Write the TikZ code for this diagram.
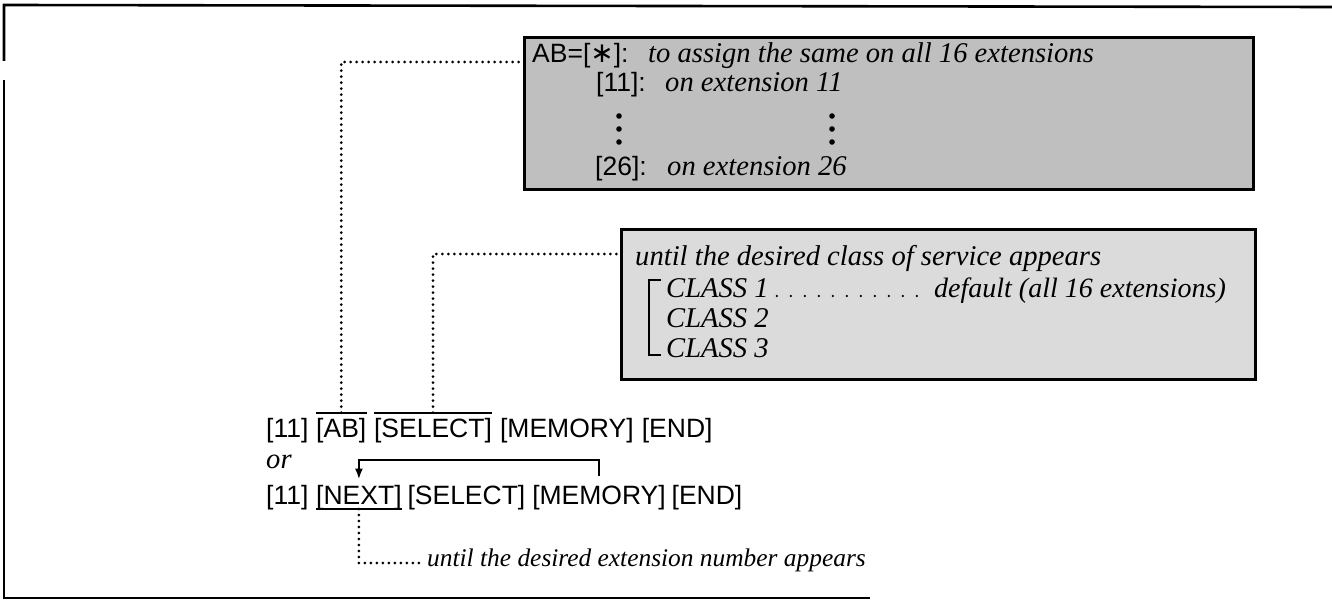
\documentclass[tikz,border=0pt]{standalone}
\usepackage{fontspec}
\setmainfont{Liberation Serif}
\setsansfont{Liberation Sans}
\newfontfamily\mysymfont{DejaVu Sans}
\usetikzlibrary{arrows.meta,calc}
\newcommand\mykeyfont{\sffamily\fontsize{26.5}{30}\selectfont}
\newcommand\myitfont{\rmfamily\itshape\fontsize{28.6}{32}\selectfont}
\newcommand\mysmitfont{\rmfamily\itshape\fontsize{25.4}{30}\selectfont}
\begin{document}
\begin{tikzpicture}[x=1pt,y=-1pt,
  frame/.style={line width=2.6pt},
  note/.style={draw, line width=2.6pt, inner sep=0pt, anchor=north west},
  key/.style={inner sep=0pt, anchor=base west, font=\mykeyfont},
  itx/.style={inner sep=0pt, anchor=base west, font=\myitfont},
  dotline/.style={line width=3pt, line cap=round, dash pattern=on 0pt off 6pt},
  bar/.style={line width=2.2pt}]
\useasboundingbox (0,0) rectangle (1332,607);
% outer frame
\draw[frame] (4,61) -- (4,5) -- (1332,7);
\draw[frame] (4,80) -- (4,598) -- (870,598);

% shaded notes
\node[note, fill=black!25, minimum width=729pt, minimum height=152pt] (box1) at (523,36) {};
\node[note, fill=black!14, minimum width=634pt, minimum height=150pt] (box2) at (620,228) {};

% box 1 contents
\node[key] (b1a) at (532,63) {AB=[\raisebox{0.02em}{\mysymfont\fontsize{28}{28}\selectfont ∗}]:};
\node[itx] (b1at) at (648,63) {to assign the same on all 16 extensions};
\node[key] (b1b) at (596,92) {[11]:};
\node[itx] (b1bt) at (665,92) {on extension 11};
\node[key] (b1c) at (595,175) {[26]:};
\node[itx] (b1ct) at (667,175) {on extension 26};
\foreach \yy in {116,129,142} {
  \fill (619,\yy) circle (2.8pt);
  \fill (832,\yy) circle (2.8pt);
}

% box 2 contents
\node[itx] (b2a) at (635,265) {until the desired class of service appears};
\node[itx] (c1) at (666,297) {CLASS 1};
\node[itx] (c2) at (666,327) {CLASS 2};
\node[itx] (c3) at (666,357) {CLASS 3};
\node[itx, font=\rmfamily\itshape\fontsize{28}{32}\selectfont] (def) at (934,297) {default (all 16 extensions)};
\draw[line width=2.8pt] (661,280) -- (649,280) -- (649,355) -- (661,355);
\draw[line width=2.6pt, line cap=round, dash pattern=on 0pt off 14pt] ([xshift=8pt,yshift=1pt]c1.base east) -- ([xshift=-8pt,yshift=1pt]def.base west);

% row 1
\node[key] (r1a) at (266,437) {[11]};
\node[key] (r1b) at ([xshift=7.4pt]r1a.base east) {[AB]};
\node[key] (r1c) at ([xshift=7.4pt]r1b.base east) {[SELECT]};
\node[key] (r1d) at ([xshift=7.8pt]r1c.base east) {[MEMORY]};
\node[key] (r1e) at ([xshift=7.8pt]r1d.base east) {[END]};
\node[itx] (or) at (266,468) {or};
% row 2
\node[key] (r2a) at (266,504) {[11]};
\node[key] (r2b) at ([xshift=7.4pt]r2a.base east) {[NEXT]};
\node[key] (r2c) at ([xshift=5.5pt]r2b.base east) {[SELECT]};
\node[key] (r2d) at ([xshift=6.5pt]r2c.base east) {[MEMORY]};
\node[key] (r2e) at ([xshift=5.5pt]r2d.base east) {[END]};
\node[itx, font=\mysmitfont] (ext) at (427,566) {until the desired extension number appears};

% overlines and underline
\draw[bar] ([yshift=5pt]r1b.north west) -- ([yshift=5pt]r1b.north east) coordinate[pos=0.5] (abmid);
\draw[bar] ([yshift=5pt]r1c.north west) -- ([yshift=5pt]r1c.north east) coordinate[pos=0.5] (selmid);
\draw[bar] ([yshift=-5pt]r2b.base west) -- ([yshift=-5pt]r2b.base east) coordinate[pos=0.5] (nextmid);

% dotted connectors
\draw[dotline] (abmid) |- (box1.west |- 0,62);
\draw[dotline] (selmid) |- (box2.west |- 0,254);
\draw[dotline] (nextmid) |- ([xshift=-3pt,yshift=3pt]ext.base west);

% loop arrow
\coordinate (arrY) at (0,460);
\draw[bar, -{Latex[length=11pt,width=8pt]}] ([yshift=9pt]r2d.north) -- (r2d.north |- arrY) -- (r2b.north |- arrY) -- ([yshift=5pt]r2b.north);
\end{tikzpicture}
\end{document}
